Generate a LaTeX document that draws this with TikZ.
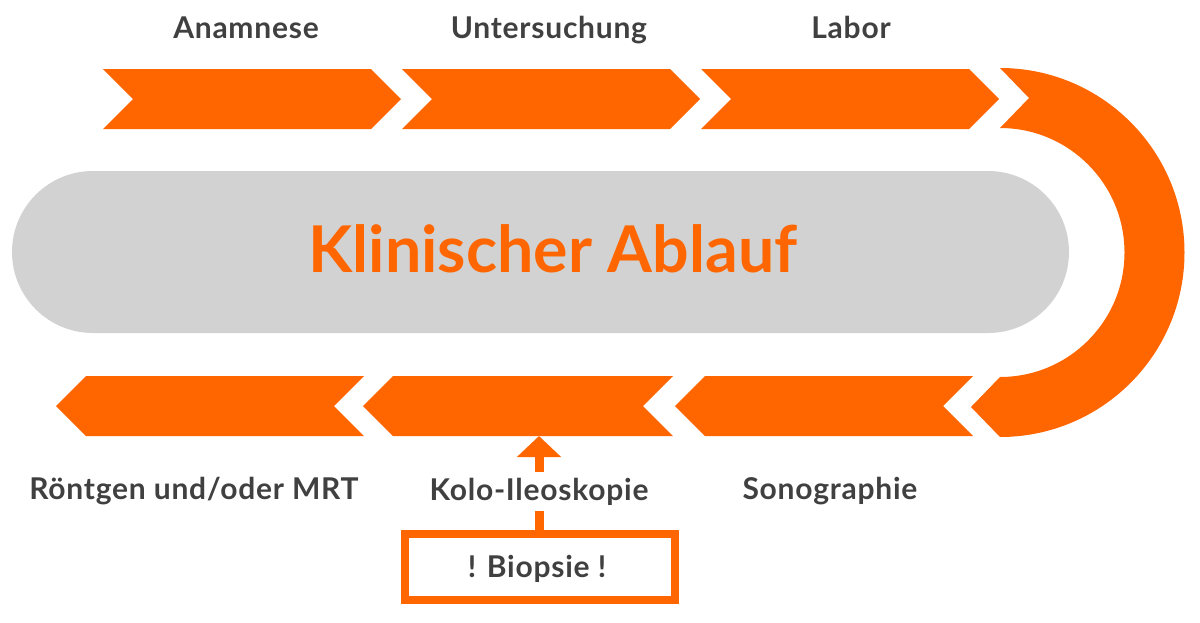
\documentclass[tikz,border=0pt]{standalone}
\usepackage{fontspec}
\setmainfont{Lato}
\newfontfamily\lblfont{Lato}[LetterSpace=2.5]
\usetikzlibrary{arrows.meta}
\definecolor{org}{HTML}{FF6600}
\definecolor{pill}{HTML}{D2D2D2}
\definecolor{txt}{HTML}{404040}
\begin{document}
\begin{tikzpicture}[x=1pt,y=-1pt,
  lbl/.style={text=txt,font=\lblfont\fontsize{30}{32}\selectfont\bfseries,anchor=base,inner sep=2pt},
]
\useasboundingbox (0,0) rectangle (1200,622);
% top chevrons (right pointing)
\fill[org] (103,69) -- (371,69) -- (401,99) -- (371,129) -- (103,129) -- (133,99) -- cycle;
\fill[org] (402,69) -- (670,69) -- (700,99) -- (670,129) -- (402,129) -- (432,99) -- cycle;
\fill[org] (701,69) -- (969,69) -- (999,99) -- (969,129) -- (701,129) -- (731,99) -- cycle;
% U-turn
\fill[org] (1000,68) arc[start angle=-90,end angle=90,radius=184.5]
  -- (971,407) -- (1000,377) arc[start angle=90,end angle=-90,radius=124.5]
  -- (1029,98) -- cycle;
% bottom chevrons (left pointing)
\fill[org] (675,406) -- (705,376) -- (973,376) -- (943,406) -- (973,436) -- (705,436) -- cycle;
\fill[org] (363,406) -- (393,376) -- (673,376) -- (643,406) -- (673,436) -- (393,436) -- cycle;
\fill[org] (56,406) -- (86,376) -- (364,376) -- (334,406) -- (364,436) -- (86,436) -- cycle;
\coordinate (kolobottom) at (539,436);
% central pill
\node[fill=pill,rounded corners=81pt,minimum width=1057pt,minimum height=162pt,inner sep=0pt] (pill) at (540.5,252) {};
\node[text=org,font=\fontsize{64.5}{66}\selectfont\bfseries,anchor=base] (title) at (553,272) {Klinischer Ablauf};
% labels
\node[lbl] (anam) at (246,38) {Anamnese};
\node[lbl] (unter) at (549,38) {Untersuchung};
\node[lbl] (labor) at (851,38) {Labor};
\node[lbl] (roent) at (194,499) {Röntgen und/oder MRT};
\node[lbl] (sono) at (830,499) {Sonographie};
% biopsy box and arrow
\node[draw=org,line width=8pt,minimum width=270pt,minimum height=66pt,inner sep=0pt] (bio) at (540,567) {};
\draw[org,line width=9pt,-{Triangle[width=43pt,length=21pt]}] (bio.north -| kolobottom) -- (kolobottom);
\node[lbl,fill=white,inner xsep=0pt,inner ysep=6pt] (kolo) at (539,500) {Kolo-Ileoskopie};
\node[lbl] (biotxt) at (537,577) {! Biopsie !};
\end{tikzpicture}
\end{document}
